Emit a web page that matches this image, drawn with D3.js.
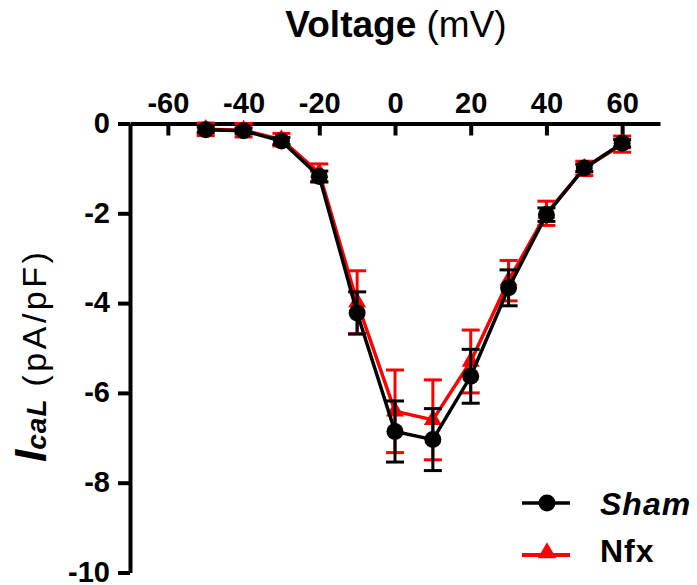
<!DOCTYPE html>
<html>
<head>
<meta charset="utf-8">
<script src="https://cdn.jsdelivr.net/npm/d3@7/dist/d3.min.js"></script>
<style>
body { margin: 0; background: #fff; }
text { font-family: "Liberation Sans", Arial, sans-serif; }
</style>
</head>
<body>
<script>
// I-V relationship
var voltages = [-50, -40, -30, -20, -10, 0, 10, 20, 30, 40, 50, 60];
var sham = [-0.14, -0.16, -0.39, -1.18, -4.22, -6.86, -7.04, -5.63, -3.66, -2.03, -0.99, -0.44];
var shamSem = [0.06, 0.06, 0.08, 0.12, 0.47, 0.68, 0.69, 0.6, 0.4, 0.15, 0.08, 0.08];
var nfx = [-0.13, -0.15, -0.36, -1.1, -3.98, -6.41, -6.6, -5.3, -3.5, -2.0, -1.0, -0.46];
var nfxSem = [0.14, 0.15, 0.14, 0.2, 0.7, 0.92, 0.89, 0.7, 0.45, 0.27, 0.16, 0.18];
var xTicks = [-60, -40, -20, 0, 20, 40, 60];
var yTicks = [0, -2, -4, -6, -8, -10];

var width = 697, height = 585;
var svg = d3.select("body").append("svg").attr("width", width).attr("height", height);

var x = d3.scaleLinear().domain([-70, 70]).range([130, 660]);
var y = d3.scaleLinear().domain([-10, 0]).range([572.5, 123.5]);
var fmt = function(d) { return String(d); }; // plain hyphen like the original

// axes
var xAxis = svg.append("g").attr("transform", "translate(0," + y(0) + ")")
    .call(d3.axisTop(x).tickValues(xTicks).tickFormat(fmt).tickSizeInner(-12).tickSizeOuter(0).tickPadding(11));
var yAxis = svg.append("g").attr("transform", "translate(" + x(-70) + ",0)")
    .call(d3.axisLeft(y).tickValues(yTicks).tickFormat(fmt).tickSizeInner(12).tickSizeOuter(0).tickPadding(8));

[xAxis, yAxis].forEach(function(a) {
    a.select(".domain").attr("stroke", "#000").attr("stroke-width", 4);
    a.selectAll(".tick line").attr("stroke", "#000").attr("stroke-width", 4);
    a.selectAll(".tick text").attr("fill", "#000")
        .style("font-family", "'Liberation Sans', Arial, sans-serif")
        .style("font-size", "29px").style("font-weight", "bold");
});
yAxis.selectAll(".tick text").attr("dy", "0.3em");

function drawSeries(vals, sems, color, symbol) {
    var g = svg.append("g");
    var pts = voltages.map(function(v, i) { return { v: v, m: vals[i], s: sems[i] }; });
    // error bars
    var eb = g.selectAll(".eb").data(pts).enter().append("g");
    eb.append("line")
        .attr("x1", function(d) { return x(d.v); }).attr("x2", function(d) { return x(d.v); })
        .attr("y1", function(d) { return y(d.m + d.s); }).attr("y2", function(d) { return y(d.m - d.s); })
        .attr("stroke", color).attr("stroke-width", 3);
    [1, -1].forEach(function(sg) {
        eb.append("line")
            .attr("x1", function(d) { return x(d.v) - 9; }).attr("x2", function(d) { return x(d.v) + 9; })
            .attr("y1", function(d) { return y(d.m + sg * d.s); }).attr("y2", function(d) { return y(d.m + sg * d.s); })
            .attr("stroke", color).attr("stroke-width", 3);
    });
    var line = d3.line().x(function(d) { return x(d.v); }).y(function(d) { return y(d.m); });
    g.append("path").datum(pts).attr("d", line)
        .attr("fill", "none").attr("stroke", color).attr("stroke-width", 3.5);
    if (symbol === "circle") {
        g.selectAll("circle").data(pts).enter().append("circle")
            .attr("cx", function(d) { return x(d.v); }).attr("cy", function(d) { return y(d.m); })
            .attr("r", 8.5).attr("fill", color);
    } else {
        g.selectAll(".tri").data(pts).enter().append("path")
            .attr("d", d3.symbol().type(d3.symbolTriangle).size(140))
            .attr("transform", function(d) { return "translate(" + x(d.v) + "," + y(d.m) + ")"; })
            .attr("fill", color);
    }
}

drawSeries(nfx, nfxSem, "#ff0000", "triangle");
drawSeries(sham, shamSem, "#000000", "circle");

// title on top
var title = svg.append("text").attr("x", 396).attr("y", 37).attr("text-anchor", "middle")
    .style("font-size", "37px").attr("fill", "#000");
title.append("tspan").style("font-weight", "bold").text("Voltage");
title.append("tspan").text(" (mV)");

// y label
var yl = svg.append("text").attr("transform", "translate(46,462) rotate(-90)")
    .attr("text-anchor", "start").attr("fill", "#000");
yl.append("tspan").style("font-size", "44px").style("font-weight", "bold").style("font-style", "italic").text("I");
yl.append("tspan").style("font-size", "28px").style("font-weight", "bold").style("font-style", "italic")
    .style("letter-spacing", "1px").text("caL");
yl.append("tspan").attr("dx", 12).style("font-size", "34px").style("letter-spacing", "3.5px").text("(pA/pF)");

// legend
var legend = svg.append("g");
legend.append("line").attr("x1", 522).attr("x2", 570).attr("y1", 503).attr("y2", 503)
    .attr("stroke", "#000").attr("stroke-width", 3.5);
legend.append("circle").attr("cx", 547).attr("cy", 503).attr("r", 8.5).attr("fill", "#000");
legend.append("text").attr("x", 600).attr("y", 515).style("font-size", "32px").style("letter-spacing", "1px")
    .style("font-weight", "bold").style("font-style", "italic").text("Sham");
legend.append("line").attr("x1", 522).attr("x2", 570).attr("y1", 555).attr("y2", 555)
    .attr("stroke", "#ff0000").attr("stroke-width", 4);
legend.append("path").attr("d", d3.symbol().type(d3.symbolTriangle).size(150)())
    .attr("transform", "translate(547,553)").attr("fill", "#ff0000");
legend.append("text").attr("x", 600).attr("y", 562).style("font-size", "32px").style("letter-spacing", "1px")
    .style("font-weight", "bold").text("Nfx");
</script>
</body>
</html>
